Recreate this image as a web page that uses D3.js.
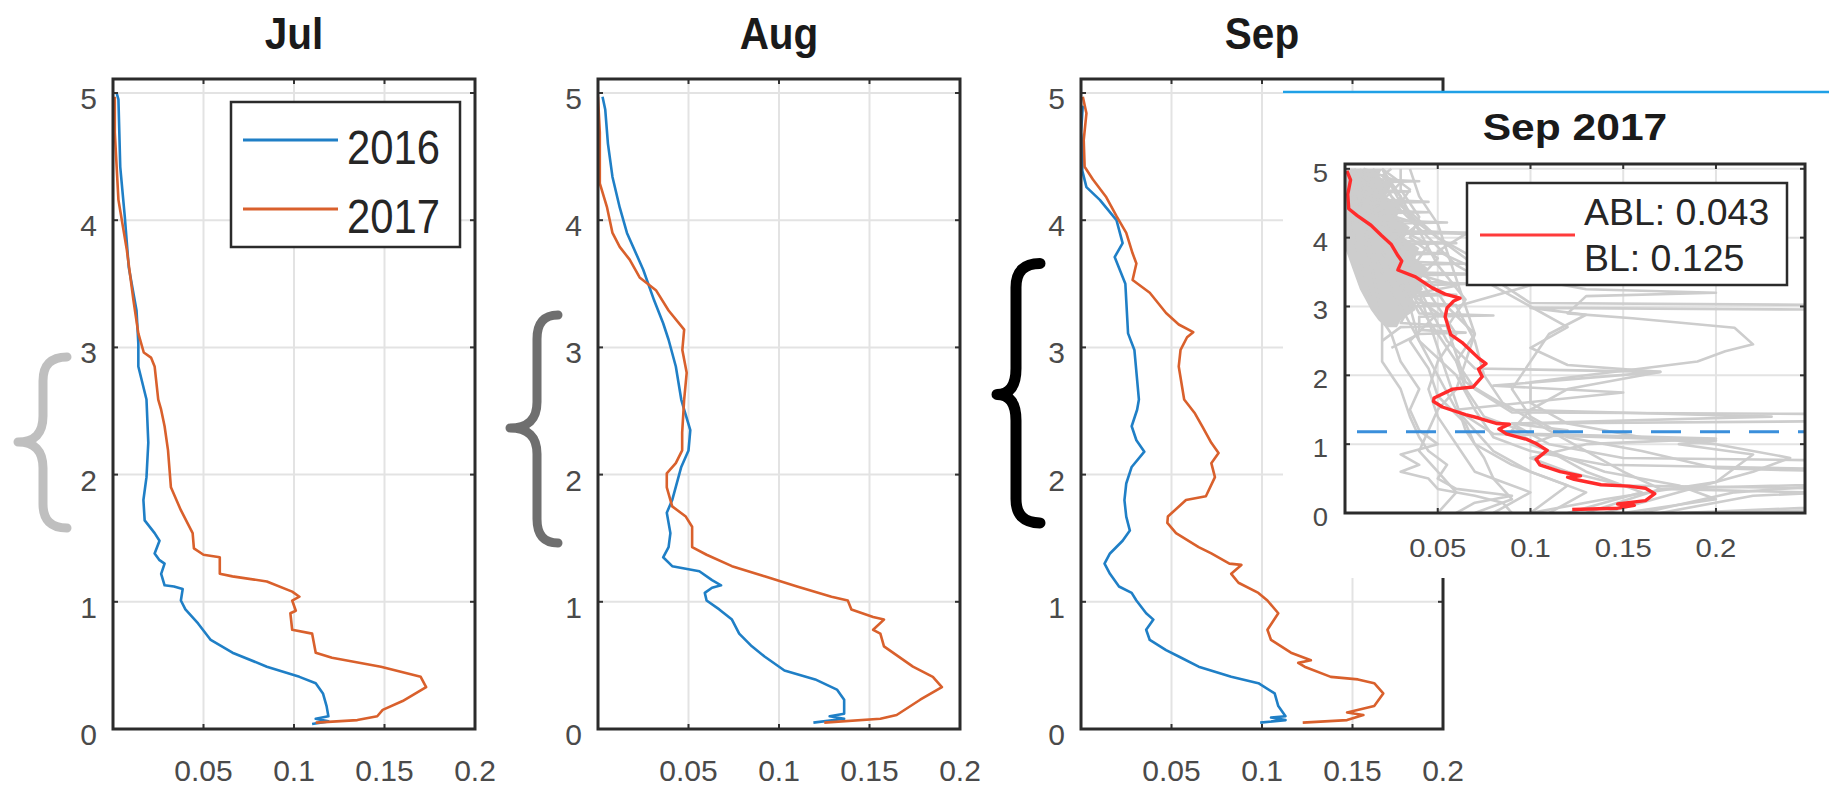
<!DOCTYPE html>
<html><head><meta charset="utf-8">
<script src="https://cdn.jsdelivr.net/npm/d3@7"></script>
<style>html,body{margin:0;padding:0;background:#fff;} svg{display:block;}</style>
</head><body>
<svg id="chart" width="1829" height="792"></svg>
<script>
// ---------------- DATA ----------------
const months = ["Jul", "Aug", "Sep"];
const years = ["2016", "2017"];
const xTickValues = [0.05, 0.1, 0.15, 0.2];
const yTickValues = [0, 1, 2, 3, 4, 5];
const insetXTickValues = [0.05, 0.1, 0.15, 0.2];
const insetTitle = "Sep 2017";
const insetLegendLabels = ["ABL: 0.043", "BL: 0.125"];
const insetThreshold = 1.18;
// brace spans per panel: [top, tip, bottom] in height units
const braceSpans = [[2.925, 2.256, 1.58], [3.255, 2.366, 1.462], [3.66, 2.63, 1.62]];

// profiles: [flux, height]
const jul2016 = [[0.110,0.04],[0.119,0.06],[0.112,0.08],[0.119,0.10],[0.118,0.18],[0.116,0.28],[0.112,0.36],[0.103,0.41],[0.085,0.49],[0.066,0.60],[0.054,0.70],[0.047,0.83],[0.040,0.94],[0.0375,1.01],[0.0385,1.10],[0.0337,1.12],[0.0285,1.13],[0.0266,1.22],[0.0285,1.30],[0.0255,1.33],[0.023,1.38],[0.0257,1.48],[0.023,1.54],[0.0175,1.64],[0.0168,1.80],[0.0185,1.98],[0.0195,2.25],[0.0185,2.59],[0.014,2.85],[0.014,3.03],[0.013,3.29],[0.0087,3.63],[0.0065,4.03],[0.004,4.42],[0.003,4.95],[0.002,5.0]];
const jul2017 = [[0.112,0.05],[0.135,0.07],[0.146,0.10],[0.149,0.15],[0.160,0.22],[0.173,0.33],[0.170,0.41],[0.148,0.49],[0.121,0.56],[0.112,0.60],[0.110,0.75],[0.099,0.78],[0.098,0.91],[0.101,0.93],[0.099,1.01],[0.103,1.04],[0.099,1.08],[0.085,1.16],[0.066,1.20],[0.059,1.22],[0.059,1.35],[0.050,1.37],[0.0447,1.42],[0.044,1.54],[0.0375,1.72],[0.032,1.90],[0.0304,2.19],[0.0285,2.38],[0.0266,2.51],[0.025,2.59],[0.023,2.85],[0.021,2.92],[0.017,2.96],[0.014,3.11],[0.0113,3.37],[0.0076,3.77],[0.003,4.16],[0.001,4.69],[0.001,4.97]];
const aug2016 = [[0.119,0.05],[0.136,0.08],[0.128,0.10],[0.136,0.12],[0.136,0.23],[0.132,0.31],[0.120,0.39],[0.103,0.46],[0.092,0.57],[0.085,0.65],[0.078,0.75],[0.074,0.86],[0.067,0.94],[0.060,1.01],[0.059,1.07],[0.063,1.11],[0.068,1.13],[0.063,1.17],[0.056,1.24],[0.041,1.28],[0.036,1.35],[0.039,1.43],[0.040,1.54],[0.038,1.70],[0.041,1.80],[0.046,2.06],[0.050,2.19],[0.051,2.35],[0.0476,2.51],[0.046,2.59],[0.043,2.85],[0.039,3.06],[0.036,3.19],[0.031,3.37],[0.025,3.61],[0.016,3.90],[0.012,4.10],[0.008,4.34],[0.0055,4.60],[0.004,4.87],[0.0025,4.97]];
const aug2017 = [[0.125,0.05],[0.156,0.08],[0.165,0.11],[0.178,0.23],[0.190,0.33],[0.185,0.41],[0.174,0.49],[0.158,0.65],[0.156,0.75],[0.152,0.78],[0.158,0.86],[0.152,0.88],[0.140,0.94],[0.138,1.01],[0.129,1.04],[0.110,1.12],[0.092,1.20],[0.074,1.28],[0.060,1.37],[0.052,1.43],[0.052,1.59],[0.0485,1.67],[0.041,1.75],[0.038,1.90],[0.038,2.01],[0.043,2.09],[0.0465,2.19],[0.0465,2.33],[0.0476,2.59],[0.049,2.80],[0.0466,2.98],[0.0476,3.14],[0.039,3.29],[0.032,3.45],[0.023,3.55],[0.0175,3.69],[0.012,3.79],[0.008,3.90],[0.005,4.10],[0.001,4.29],[0.001,4.69],[0.0,4.97]];
const sep2016 = [[0.099,0.05],[0.113,0.07],[0.105,0.09],[0.113,0.10],[0.109,0.18],[0.107,0.28],[0.098,0.36],[0.083,0.41],[0.065,0.49],[0.054,0.57],[0.047,0.62],[0.038,0.70],[0.036,0.78],[0.040,0.86],[0.036,0.91],[0.0306,1.01],[0.028,1.07],[0.021,1.12],[0.016,1.22],[0.013,1.30],[0.016,1.38],[0.023,1.48],[0.027,1.56],[0.025,1.67],[0.024,1.80],[0.025,1.93],[0.028,2.06],[0.035,2.18],[0.0306,2.27],[0.028,2.38],[0.031,2.51],[0.032,2.59],[0.0295,2.98],[0.026,3.11],[0.025,3.37],[0.0245,3.50],[0.0186,3.71],[0.023,3.82],[0.0196,4.00],[0.0104,4.16],[0.003,4.26],[0.0007,4.39],[0.001,4.55],[0.0,4.69],[0.001,4.90]];
const sep2017 = [[0.1225,0.05],[0.147,0.07],[0.156,0.11],[0.147,0.13],[0.162,0.18],[0.167,0.28],[0.162,0.36],[0.153,0.39],[0.138,0.41],[0.1235,0.49],[0.120,0.52],[0.127,0.54],[0.116,0.60],[0.105,0.70],[0.103,0.78],[0.109,0.91],[0.103,1.01],[0.098,1.07],[0.087,1.15],[0.083,1.22],[0.0886,1.29],[0.082,1.30],[0.072,1.38],[0.065,1.43],[0.0525,1.54],[0.0477,1.62],[0.048,1.67],[0.058,1.80],[0.069,1.83],[0.074,1.98],[0.072,2.09],[0.076,2.17],[0.072,2.25],[0.067,2.38],[0.063,2.48],[0.057,2.59],[0.054,2.85],[0.055,2.98],[0.0586,3.08],[0.062,3.12],[0.054,3.18],[0.047,3.27],[0.038,3.43],[0.0285,3.53],[0.0306,3.66],[0.0285,3.74],[0.025,3.90],[0.0197,4.03],[0.014,4.18],[0.0066,4.32],[0.002,4.42],[0.0015,4.63],[0.003,4.84],[0.001,4.97]];

// individual Sep 2017 profiles (grey, inset)
const sepProfiles = [
  [[0.09,0],[0.085,0.15],[0.07,0.25],[0.05,0.35],[0.045,0.5],[0.03,0.6],[0.04,0.7],[0.03,0.85],[0.05,1.0],[0.04,1.2],[0.035,1.5],[0.04,1.8],[0.03,2.2],[0.025,2.6],[0.015,3.0],[0.01,3.5],[0.005,4.0],[0.003,4.5],[0.002,5]],
  [[0.2,0],[0.4,0.15],[0.4,0.2],[0.17,0.35],[0.4,0.52],[0.4,0.57],[0.14,0.7],[0.1,0.9],[0.08,1.1],[0.07,1.5],[0.06,2.0],[0.04,2.5],[0.03,3.0],[0.02,3.5],[0.012,4.0],[0.008,4.5],[0.004,5]],
  [[0.15,0],[0.2,0.2],[0.18,0.4],[0.14,0.6],[0.12,0.8],[0.1,1.0],[0.12,1.2],[0.09,1.3],[0.4,1.36],[0.4,1.42],[0.09,1.46],[0.07,1.8],[0.06,2.2],[0.05,2.6],[0.04,3.0],[0.03,3.5],[0.025,4.0],[0.015,4.5],[0.01,5]],
  [[0.17,0],[0.22,0.25],[0.4,0.47],[0.4,0.51],[0.2,0.65],[0.16,0.9],[0.12,1.1],[0.1,1.4],[0.09,1.8],[0.1,2.2],[0.11,2.6],[0.13,2.88],[0.1,2.98],[0.4,2.93],[0.4,3.0],[0.1,3.05],[0.08,3.4],[0.06,3.8],[0.04,4.2],[0.025,4.6],[0.015,5]],
  [[0.12,0],[0.16,0.3],[0.13,0.6],[0.11,0.9],[0.09,1.2],[0.1,1.5],[0.12,1.8],[0.15,1.95],[0.17,2.05],[0.12,2.15],[0.1,2.4],[0.12,2.7],[0.1,3.0],[0.08,3.3],[0.06,3.6],[0.045,4.0],[0.03,4.4],[0.02,4.8],[0.015,5]],
  [[0.14,0],[0.18,0.3],[0.22,0.6],[0.24,0.8],[0.2,1.0],[0.16,1.1],[0.12,1.3],[0.1,1.6],[0.1,1.9],[0.13,2.0],[0.16,2.1],[0.19,2.2],[0.205,2.35],[0.22,2.45],[0.21,2.69],[0.155,2.83],[0.12,2.9],[0.13,3.15],[0.2,3.2],[0.13,3.25],[0.1,3.4],[0.07,3.7],[0.05,4.0],[0.03,4.5],[0.02,5]],
  [[0.1,0],[0.14,0.2],[0.2,0.45],[0.22,0.85],[0.18,1.0],[0.2,1.05],[0.08,1.15],[0.06,1.5],[0.05,2.0],[0.04,2.5],[0.035,3.0],[0.03,3.5],[0.02,4.0],[0.01,4.5],[0.005,5]],
  [[0.13,0],[0.17,0.35],[0.15,0.6],[0.13,0.9],[0.11,1.2],[0.085,1.6],[0.075,2.0],[0.07,2.5],[0.06,3.0],[0.125,3.5],[0.07,3.55],[0.05,3.8],[0.065,4.05],[0.04,4.1],[0.03,4.5],[0.035,4.7],[0.02,5]],
  [[0.11,0],[0.13,0.3],[0.1,0.6],[0.08,0.9],[0.07,1.2],[0.06,1.5],[0.15,1.75],[0.08,1.85],[0.17,2.05],[0.07,2.1],[0.055,2.5],[0.045,3.0],[0.035,3.5],[0.025,4.0],[0.015,4.5],[0.01,5]],
  [[0.08,0],[0.1,0.3],[0.07,0.6],[0.06,1.0],[0.05,1.4],[0.045,1.8],[0.05,2.2],[0.06,2.6],[0.05,3.0],[0.04,3.4],[0.05,3.7],[0.035,4.0],[0.04,4.3],[0.03,4.7],[0.03,5]],
  [[0.18,0],[0.4,0.24],[0.4,0.3],[0.15,0.4],[0.12,0.6],[0.1,0.8],[0.13,1.0],[0.2,1.08],[0.1,1.15],[0.075,1.4],[0.065,1.8],[0.06,2.2],[0.07,2.6],[0.055,3.0],[0.045,3.4],[0.03,3.8],[0.02,4.3],[0.01,5]],
  [[0.06,0],[0.07,0.15],[0.09,0.25],[0.06,0.35],[0.05,0.5],[0.055,0.7],[0.045,0.9],[0.04,1.1],[0.035,1.4],[0.03,1.8],[0.02,2.2],[0.02,2.8],[0.015,3.5],[0.008,4.2],[0.003,5]],
  [[0.07,0],[0.09,0.2],[0.08,0.5],[0.075,0.8],[0.065,1.2],[0.06,1.6],[0.055,2.0],[0.05,2.4],[0.045,2.8],[0.04,3.2],[0.06,3.3],[0.035,3.5],[0.045,3.9],[0.025,4.2],[0.03,4.6],[0.02,4.9],[0.025,5]],
  [[0.1,0],[0.12,0.4],[0.09,0.7],[0.07,1.0],[0.065,1.3],[0.05,1.7],[0.045,2.1],[0.035,2.5],[0.05,2.9],[0.03,3.3],[0.02,3.8],[0.04,4.2],[0.015,4.4],[0.03,4.8],[0.01,5]],
  [[0.16,0],[0.21,0.3],[0.4,0.68],[0.4,0.72],[0.15,0.8],[0.11,1.0],[0.09,1.3],[0.23,1.4],[0.09,1.5],[0.065,1.9],[0.06,2.3],[0.055,2.7],[0.065,3.1],[0.05,3.6],[0.04,4.1],[0.03,4.6],[0.02,5]],
  [[0.05,0],[0.06,0.3],[0.05,0.6],[0.04,0.9],[0.045,1.2],[0.05,1.5],[0.06,1.8],[0.065,2.2],[0.07,2.6],[0.065,3.0],[0.06,3.4],[0.055,3.8],[0.05,4.2],[0.04,4.6],[0.035,5]],
  [[0.02,2.5],[0.03,2.7],[0.055,2.72],[0.03,2.76],[0.035,3.0],[0.06,3.02],[0.035,3.06],[0.03,3.3],[0.07,3.33],[0.03,3.37],[0.025,3.6],[0.065,3.62],[0.025,3.66],[0.02,3.9],[0.06,3.92],[0.02,3.96],[0.015,4.2],[0.055,4.22],[0.015,4.26],[0.012,4.5],[0.045,4.52],[0.012,4.56],[0.01,4.8],[0.04,4.82],[0.01,4.86],[0.008,5]],
  [[0.025,2.4],[0.04,2.6],[0.065,2.62],[0.04,2.66],[0.04,2.85],[0.08,2.87],[0.04,2.9],[0.035,3.15],[0.06,3.17],[0.035,3.2],[0.03,3.45],[0.075,3.47],[0.03,3.5],[0.025,3.75],[0.055,3.77],[0.025,3.8],[0.02,4.05],[0.07,4.07],[0.02,4.1],[0.015,4.35],[0.045,4.37],[0.015,4.4],[0.012,4.65],[0.035,4.67],[0.01,4.7],[0.005,5]]
];
// dense core of the Sep 2017 profiles: [height, lowFlux, highFlux]
const sepCoreBand = [[5.0,0,0.02],[4.9,0,0.018],[4.75,0,0.025],[4.6,0,0.022],[4.45,0,0.03],[4.3,0,0.028],[4.15,0,0.035],[4.0,0,0.032],[3.85,0,0.04],[3.7,0.002,0.038],[3.55,0.004,0.045],[3.4,0.006,0.04],[3.25,0.008,0.042],[3.1,0.011,0.036],[2.95,0.014,0.038],[2.8,0.018,0.03],[2.7,0.022,0.028]];

const monthlyData = [[jul2016, jul2017], [aug2016, aug2017], [sep2016, sep2017]];

// ---------------- STYLE / LAYOUT ----------------
const FONT = "'Liberation Sans', Arial, Helvetica, sans-serif";
const yearColors = ["#1f7fc6", "#d9602c"];
const braceColors = ["#bfbfbf", "#6f6f6f", "#000000"];
const panelLefts = [113, 598, 1081];
const panelTop = 79, panelBottom = 729, panelW = 362;
const grey = "#cdcdcd";

const svg = d3.select("#chart");
svg.append("rect").attr("width", 1829).attr("height", 792).attr("fill", "#fff");
const defs = svg.append("defs");

function stretch(sel, f) {
  sel.each(function () {
    const w = this.getComputedTextLength();
    d3.select(this).attr("textLength", w * f).attr("lengthAdjust", "spacingAndGlyphs");
  });
}

function drawGrid(g, x, y, xt, yt) {
  const [x0, x1] = x.range(), [y0, y1] = y.range();
  g.selectAll(null).data(xt).enter().append("line")
    .attr("x1", d => x(d)).attr("x2", d => x(d)).attr("y1", y0).attr("y2", y1)
    .attr("stroke", "#e3e3e3").attr("stroke-width", 2);
  g.selectAll(null).data(yt).enter().append("line")
    .attr("x1", x0).attr("x2", x1).attr("y1", d => y(d)).attr("y2", d => y(d))
    .attr("stroke", "#e3e3e3").attr("stroke-width", 2);
}

function drawBoxTicks(g, x, y, xt, yt) {
  const [x0, x1] = x.range(), [y0, y1] = y.range();
  const tl = 5;
  yt.forEach(v => {
    g.append("line").attr("x1", x0).attr("x2", x0 + tl).attr("y1", y(v)).attr("y2", y(v)).attr("stroke", "#333").attr("stroke-width", 2);
    g.append("line").attr("x1", x1).attr("x2", x1 - tl).attr("y1", y(v)).attr("y2", y(v)).attr("stroke", "#333").attr("stroke-width", 2);
  });
  xt.forEach(v => {
    g.append("line").attr("x1", x(v)).attr("x2", x(v)).attr("y1", y0).attr("y2", y0 - tl).attr("stroke", "#333").attr("stroke-width", 2);
    g.append("line").attr("x1", x(v)).attr("x2", x(v)).attr("y1", y1).attr("y2", y1 + tl).attr("stroke", "#333").attr("stroke-width", 2);
  });
  g.append("rect").attr("x", x0).attr("y", y1).attr("width", x1 - x0).attr("height", y0 - y1)
    .attr("fill", "none").attr("stroke", "#2b2b2b").attr("stroke-width", 3);
}

function bracePath(xe, xv, xt, yt, ym, yb) {
  const r = 24, r2 = 26;
  return `M${xe},${yt} Q${xv},${yt} ${xv},${yt + r} L${xv},${ym - r2} Q${xv},${ym} ${xt},${ym} Q${xv},${ym} ${xv},${ym + r2} L${xv},${yb - r} Q${xv},${yb} ${xe},${yb}`;
}

// ---------------- MAIN PANELS ----------------
months.forEach((m, i) => {
  const left = panelLefts[i];
  const x = d3.scaleLinear().domain([0, 0.2]).range([left, left + panelW]);
  const y = d3.scaleLinear().domain([0, 5.11]).range([panelBottom, panelTop]);
  const g = svg.append("g");
  const cid = "clip" + i;
  defs.append("clipPath").attr("id", cid).append("rect")
    .attr("x", left).attr("y", panelTop).attr("width", panelW).attr("height", panelBottom - panelTop);

  drawGrid(g, x, y, xTickValues, yTickValues);

  const line = d3.line().x(d => x(d[0])).y(d => y(d[1]));
  const lg = g.append("g").attr("clip-path", `url(#${cid})`);
  monthlyData[i].forEach((series, k) => {
    lg.append("path").datum(series).attr("d", line).attr("fill", "none")
      .attr("stroke", yearColors[k]).attr("stroke-width", 2.6).attr("stroke-linejoin", "round");
  });

  drawBoxTicks(g, x, y, xTickValues, yTickValues);

  g.selectAll(null).data(yTickValues).enter().append("text")
    .attr("x", left - 16).attr("y", d => y(d) + 16).attr("text-anchor", "end")
    .attr("font-family", FONT).attr("font-size", 30).attr("fill", "#4a4a4a").text(d => d);
  g.selectAll(null).data(xTickValues).enter().append("text")
    .attr("x", d => x(d)).attr("y", 781).attr("text-anchor", "middle")
    .attr("font-family", FONT).attr("font-size", 30).attr("fill", "#4a4a4a").text(d => d);

  g.append("text").attr("x", left + panelW / 2).attr("y", 49).attr("text-anchor", "middle")
    .attr("font-family", FONT).attr("font-weight", "bold").attr("font-size", 45).attr("fill", "#1a1a1a")
    .text(m).call(stretch, 0.9);

  const b = braceSpans[i];
  const bx = [[67, 43, 18], [558, 537, 510], [1040, 1016, 997]][i];
  svg.append("path").attr("d", bracePath(bx[0], bx[1], bx[2], y(b[0]), y(b[1]), y(b[2])))
    .attr("fill", "none").attr("stroke", braceColors[i]).attr("stroke-width", i === 2 ? 11 : 9)
    .attr("stroke-linecap", "round").attr("stroke-linejoin", "round");

  if (i === 0) {
    const lgd = svg.append("g");
    lgd.append("rect").attr("x", 231).attr("y", 102).attr("width", 229).attr("height", 145)
      .attr("fill", "#fff").attr("stroke", "#2b2b2b").attr("stroke-width", 2.5);
    years.forEach((yr, k) => {
      const cy = 140 + k * 69;
      lgd.append("line").attr("x1", 243).attr("x2", 338).attr("y1", cy).attr("y2", cy)
        .attr("stroke", yearColors[k]).attr("stroke-width", 3);
      lgd.append("text").attr("x", 347).attr("y", cy + 24).attr("font-family", FONT)
        .attr("font-size", 48).attr("fill", "#262626").text(yr).call(stretch, 0.87);
    });
  }
});

// ---------------- INSET ----------------
const inset = svg.append("g");
inset.append("rect").attr("x", 1283).attr("y", 92).attr("width", 1829 - 1283).attr("height", 578 - 92).attr("fill", "#fff");
inset.append("line").attr("x1", 1283).attr("x2", 1829).attr("y1", 92).attr("y2", 92)
  .attr("stroke", "#1fa0e6").attr("stroke-width", 2.5);

const ix = d3.scaleLinear().domain([0, 0.248]).range([1345, 1805]);
const iy = d3.scaleLinear().domain([0, 5.07]).range([513, 164]);
defs.append("clipPath").attr("id", "clipInset").append("rect")
  .attr("x", 1345).attr("y", 164).attr("width", 460).attr("height", 349);

drawGrid(inset, ix, iy, insetXTickValues, yTickValues);
const iline = d3.line().x(d => ix(d[0])).y(d => iy(d[1]));
const ilg = inset.append("g").attr("clip-path", "url(#clipInset)");
ilg.append("path").datum(sepCoreBand)
  .attr("d", d3.area().y(d => iy(d[0])).x0(d => ix(d[1])).x1(d => ix(d[2])))
  .attr("fill", grey);
sepProfiles.forEach(p => {
  ilg.append("path").datum(p).attr("d", iline).attr("fill", "none")
    .attr("stroke", grey).attr("stroke-width", 2.6).attr("stroke-linejoin", "round");
});
ilg.append("line").attr("x1", ix.range()[0]).attr("x2", ix.range()[1])
  .attr("y1", iy(insetThreshold)).attr("y2", iy(insetThreshold))
  .attr("stroke", "#3a8fdb").attr("stroke-width", 3.2).attr("stroke-dasharray", "30,19").attr("stroke-dashoffset", -12);
ilg.append("path").datum(sep2017).attr("d", iline).attr("fill", "none")
  .attr("stroke", "#ff2b2b").attr("stroke-width", 3.4).attr("stroke-linejoin", "round");

drawBoxTicks(inset, ix, iy, insetXTickValues, yTickValues);

inset.selectAll(null).data(yTickValues).enter().append("text")
  .attr("x", 1328).attr("y", d => iy(d) + 13).attr("text-anchor", "end")
  .attr("font-family", FONT).attr("font-size", 25).attr("fill", "#4a4a4a").text(d => d)
  .call(stretch, 1.1);
inset.selectAll(null).data(insetXTickValues).enter().append("text")
  .attr("x", d => ix(d)).attr("y", 557).attr("text-anchor", "middle")
  .attr("font-family", FONT).attr("font-size", 25).attr("fill", "#4a4a4a").text(d => d)
  .call(stretch, 1.17);

inset.append("text").attr("x", 1575).attr("y", 140).attr("text-anchor", "middle")
  .attr("font-family", FONT).attr("font-weight", "bold").attr("font-size", 37).attr("fill", "#1a1a1a")
  .text(insetTitle).call(stretch, 1.15);

const ilgd = inset.append("g");
ilgd.append("rect").attr("x", 1467).attr("y", 183).attr("width", 320).attr("height", 102)
  .attr("fill", "#fff").attr("stroke", "#2b2b2b").attr("stroke-width", 2.5);
ilgd.append("line").attr("x1", 1480).attr("x2", 1575).attr("y1", 235).attr("y2", 235)
  .attr("stroke", "#ff3b3b").attr("stroke-width", 3);
insetLegendLabels.forEach((t, k) => {
  ilgd.append("text").attr("x", 1584).attr("y", 225 + k * 46).attr("font-family", FONT)
    .attr("font-size", 36).attr("fill", "#262626").text(t).call(stretch, 1.04);
});
</script>
</body></html>
